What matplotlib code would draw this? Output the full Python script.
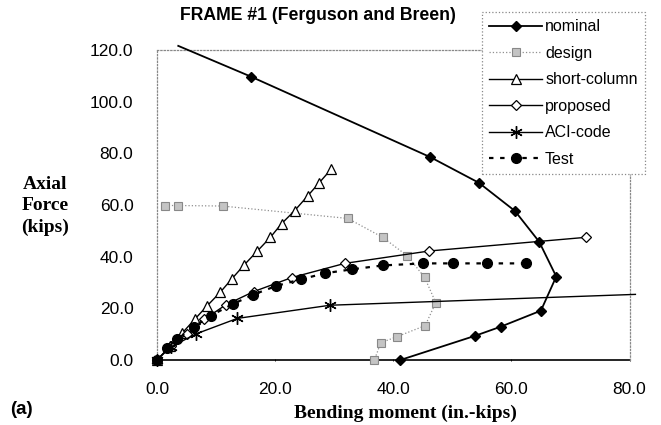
import matplotlib
matplotlib.use("Agg")
import matplotlib.pyplot as plt

# data
nominal_x = [3.6, 15.9, 46.3, 54.5, 60.6, 64.7, 67.6, 65.0, 58.2, 53.9, 41.2]
nominal_y = [121.6, 109.7, 78.5, 68.6, 57.7, 45.8, 32.3, 19.1, 12.9, 9.4, 0.0]

design_x = [1.4, 3.6, 11.1, 32.3, 38.2, 42.4, 45.3, 47.2, 45.4, 40.6, 37.9, 36.8]
design_y = [59.8, 59.8, 59.6, 54.8, 47.5, 40.3, 32.0, 22.2, 13.3, 9.0, 6.7, 0.0]

short_x = [0, 2.2, 4.3, 6.4, 8.5, 10.7, 12.7, 14.8, 17.0, 19.2, 21.1, 23.3, 25.5, 27.5, 29.5]
short_y = [0, 5.3, 10.5, 15.8, 21.0, 26.2, 31.5, 36.9, 42.2, 47.5, 52.8, 57.8, 63.5, 68.7, 73.9]

proposed_x = [0, 2.3, 5.1, 8.0, 11.6, 16.4, 22.8, 31.8, 46.1, 72.7]
proposed_y = [0, 5.4, 10.1, 15.7, 21.3, 26.5, 31.9, 37.4, 42.2, 47.5]

aci_x = [0, 2.3, 6.6, 13.6, 29.3, 81.0]
aci_y = [0, 5.0, 10.1, 16.1, 21.2, 25.4]

test_x = [0, 1.7, 3.4, 6.3, 9.1, 12.9, 16.2, 20.1, 24.3, 28.5, 33.0, 38.2, 45.1, 50.1, 55.8, 62.5]
test_y = [0, 4.5, 8.0, 12.9, 17.2, 21.7, 25.2, 28.6, 31.2, 33.6, 35.1, 36.6, 37.4, 37.4, 37.4, 37.4]

xticks = [0, 20, 40, 60, 80]
yticks = [0, 20, 40, 60, 80, 100, 120]

W, H = 661, 425
fig = plt.figure(figsize=(W/100, H/100), dpi=100)
ax = fig.add_axes([157/W, 1-360/H, (629.5-157)/W, (360-50)/H])

sans = "Liberation Sans"
serif = "Liberation Serif"

asterisk = (6, 2, 0)

ax.plot(nominal_x, nominal_y, '-', color='black', lw=1.3, marker='D', ms=5,
        markevery=list(range(1, len(nominal_x))), label='nominal', clip_on=False, zorder=3)
ax.plot(design_x, design_y, ':', color='#909090', lw=0.9, marker='s', ms=5.5,
        mfc='#c4c4c4', mec='#888888', mew=0.8, label='design', clip_on=False, zorder=3)
ax.plot(short_x, short_y, '-', color='black', lw=1.0, marker='^', ms=6.5,
        mfc='white', mec='black', mew=0.9, label='short-column', clip_on=False, zorder=4)
ax.plot(proposed_x, proposed_y, '-', color='black', lw=1.0, marker='D', ms=5,
        mfc='white', mec='black', mew=0.9, label='proposed', clip_on=False, zorder=4)
ax.plot(aci_x, aci_y, '-', color='black', lw=1.0, marker=asterisk, ms=9, mew=1.0,
        markevery=list(range(0, len(aci_x)-1)), label='ACI-code', clip_on=False, zorder=4)
ax.plot(test_x, test_y, color='black', lw=1.6, ls=(0, (2, 3)), marker='o', ms=7,
        label='Test', clip_on=False, zorder=5)

ax.set_xlim(0, 80)
ax.set_ylim(0, 120)
ax.set_xticks(xticks)
ax.set_yticks(yticks)
ax.set_xticklabels(["%.1f" % v for v in xticks], fontsize=12.5, family=sans)
ax.set_yticklabels(["%.1f" % v for v in yticks], fontsize=12.5, family=sans)
ax.tick_params(axis='x', length=2, width=0.6, pad=15, direction='inout')
ax.tick_params(axis='y', length=0, pad=17)

for side in ['left', 'top', 'right']:
    ax.spines[side].set_color('#888888')
    ax.spines[side].set_linestyle(':')
    ax.spines[side].set_linewidth(0.9)
ax.spines['bottom'].set_color('black')
ax.spines['bottom'].set_linewidth(1.2)
ax.spines['bottom'].set_zorder(2)

fig.text(318/W, 1-15/H, "FRAME #1 (Ferguson and Breen)", ha='center', va='center',
         fontsize=12.7, fontweight='bold', family=sans)
fig.text(45/W, 1-206/H, "Axial\nForce\n(kips)", ha='center', va='center',
         fontsize=14, fontweight='bold', family=serif, linespacing=1.35)
fig.text(405/W, 1-413/H, "Bending moment (in.-kips)", ha='center', va='center',
         fontsize=14, fontweight='bold', family=serif)
fig.text(10/W, 1-410/H, "(a)", ha='left', va='center',
         fontsize=13.5, fontweight='bold', family=sans)

leg = fig.legend(loc='upper left', bbox_to_anchor=(482/W, 1-12/H), borderaxespad=0,
                 prop={'family': sans, 'size': 11.5}, frameon=True, fancybox=False,
                 handlelength=3.3, handletextpad=0.2, labelspacing=0.72, borderpad=0.45)
fr = leg.get_frame()
fr.set_edgecolor('#888888')
fr.set_linestyle(':')
fr.set_linewidth(0.9)
fr.set_facecolor('white')
fr.set_alpha(1)
leg.set_zorder(10)

fig.savefig("out.png", dpi=100)
